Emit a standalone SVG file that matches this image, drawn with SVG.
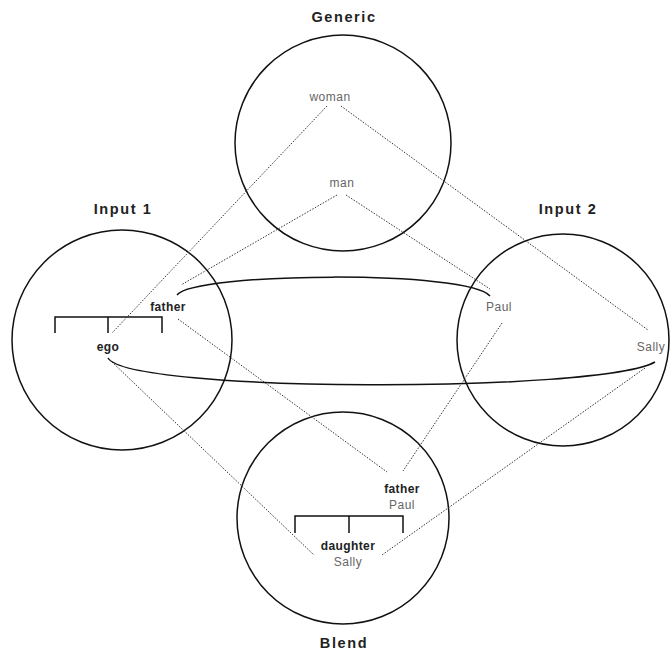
<svg xmlns="http://www.w3.org/2000/svg" width="670" height="657" viewBox="0 0 670 657">
<style>
.space{fill:none;stroke:#111;stroke-width:1.5}
.title{font-family:"Liberation Sans",Arial,sans-serif;font-size:14.5px;font-weight:bold;letter-spacing:1.6px;fill:#222;text-anchor:middle}
.role{font-family:"Liberation Sans",Arial,sans-serif;font-size:12px;font-weight:bold;letter-spacing:0.4px;fill:#222;text-anchor:middle}
.val{font-family:"Liberation Sans",Arial,sans-serif;font-size:12px;letter-spacing:0.5px;fill:#666;text-anchor:middle}
.map{fill:none;stroke:#333;stroke-width:1;stroke-dasharray:1.5 1.5}
.link{fill:none;stroke:#111;stroke-width:1.5}
.bracket{fill:none;stroke:#111;stroke-width:1.5}
</style>
<rect width="670" height="657" fill="#fff"/>
<g id="generic">
<circle class="space" cx="343" cy="143" r="108"/>
<text class="title" x="344" y="22">Generic</text>
<text class="val" x="330" y="101">woman</text>
<text class="val" x="342" y="187">man</text>
</g>
<g id="input1">
<circle class="space" cx="122" cy="340" r="110"/>
<text class="title" x="123" y="214">Input 1</text>
<text class="role" x="168" y="311">father</text>
<text class="role" x="108" y="351">ego</text>
<path class="bracket" d="M55,333 V317 H162 V333 M108,317 V333"/>
</g>
<g id="input2">
<circle class="space" cx="563" cy="340" r="106"/>
<text class="title" x="568" y="214">Input 2</text>
<text class="val" x="499" y="311">Paul</text>
<text class="val" x="651" y="351">Sally</text>
</g>
<g id="blend">
<circle class="space" cx="343" cy="518" r="106"/>
<text class="title" x="344" y="648">Blend</text>
<text class="role" x="402" y="493">father</text>
<text class="val" x="402" y="509">Paul</text>
<path class="bracket" d="M295,533 V516 H403 V533 M349,516 V533"/>
<text class="role" x="348" y="550">daughter</text>
<text class="val" x="348" y="566">Sally</text>
</g>
<g id="connectors">
<line class="map" x1="327" y1="106" x2="112" y2="333"/>
<line class="map" x1="341" y1="106" x2="648" y2="330"/>
<line class="map" x1="337" y1="195" x2="181" y2="285"/>
<line class="map" x1="346" y1="195" x2="490" y2="289"/>
<line class="map" x1="178" y1="319" x2="387" y2="472"/>
<line class="map" x1="502" y1="323" x2="403" y2="471"/>
<line class="map" x1="112" y1="362" x2="314" y2="555"/>
<line class="map" x1="645" y1="368" x2="382" y2="555"/>
<path class="link" d="M177,295 C195,272 470,270 490,296"/>
<path class="link" d="M108,358 C128,393 600,393 655,362"/>
</g>
</svg>
